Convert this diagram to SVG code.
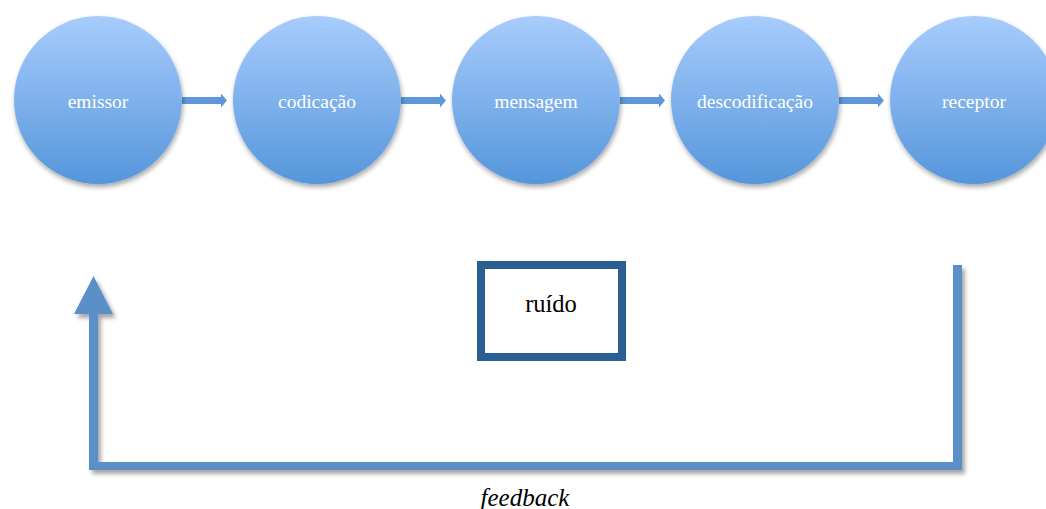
<svg xmlns="http://www.w3.org/2000/svg" width="1046" height="509" viewBox="0 0 1046 509">
<defs>
<linearGradient id="g" x1="0" y1="0" x2="0" y2="1">
<stop offset="0" stop-color="#a8ccfd"/>
<stop offset="1" stop-color="#5596db"/>
</linearGradient>
<filter id="sh" x="-20%" y="-20%" width="140%" height="150%">
<feGaussianBlur in="SourceAlpha" stdDeviation="2.5"/>
<feOffset dx="1" dy="3" result="b"/>
<feComponentTransfer><feFuncA type="linear" slope="0.35"/></feComponentTransfer>
<feMerge><feMergeNode/><feMergeNode in="SourceGraphic"/></feMerge>
</filter>
<filter id="lsh" x="-10%" y="-10%" width="120%" height="130%">
<feGaussianBlur in="SourceAlpha" stdDeviation="2"/>
<feOffset dx="3" dy="4" result="b"/>
<feComponentTransfer><feFuncA type="linear" slope="0.35"/></feComponentTransfer>
<feMerge><feMergeNode/><feMergeNode in="SourceGraphic"/></feMerge>
</filter>
</defs>
<style>
.c{fill:url(#g);filter:url(#sh)}
.t{font-family:"Liberation Serif",serif;font-size:19.5px;fill:#ffffff;text-anchor:middle;dominant-baseline:central}
.a{fill:#5e97d9}
.fb{fill:#5a8fc8}
</style>
<rect width="1046" height="509" fill="#ffffff"/>
<g id="connectors">
<path class="a" d="M182 97H221V93.5L227 100.5L221 107.5V104H182Z"/>
<path class="a" d="M401 97H440V93.5L446 100.5L440 107.5V104H401Z"/>
<path class="a" d="M620 97H659V93.5L665 100.5L659 107.5V104H620Z"/>
<path class="a" d="M839 97H878V93.5L884 100.5L878 107.5V104H839Z"/>
<g id="feedback-arrow" filter="url(#lsh)">
<path class="fb" d="M953 265H962V470H89V314H74L93.5 276L113 314H98V462H953Z"/>
</g>
</g>
<g id="emissor"><circle class="c" cx="98" cy="100" r="84"/><text class="t" x="98" y="101">emissor</text></g>
<g id="codicacao"><circle class="c" cx="317" cy="100" r="84"/><text class="t" x="317" y="101">codicação</text></g>
<g id="mensagem"><circle class="c" cx="536" cy="100" r="84"/><text class="t" x="536" y="101">mensagem</text></g>
<g id="descodificacao"><circle class="c" cx="755" cy="100" r="84"/><text class="t" x="755" y="101">descodificação</text></g>
<g id="receptor"><circle class="c" cx="974" cy="100" r="84"/><text class="t" x="974" y="101">receptor</text></g>
<g id="ruido">
<rect x="481" y="265" width="141" height="92" fill="#ffffff" stroke="#2a5f94" stroke-width="8"/>
<text x="551" y="303" font-family="Liberation Serif, serif" font-size="24.5" fill="#000000" text-anchor="middle" dominant-baseline="central">ruído</text>
</g>
<text id="feedback-label" x="525" y="497" font-family="Liberation Serif, serif" font-size="25" font-style="italic" fill="#000000" text-anchor="middle" dominant-baseline="central">feedback</text>
</svg>
